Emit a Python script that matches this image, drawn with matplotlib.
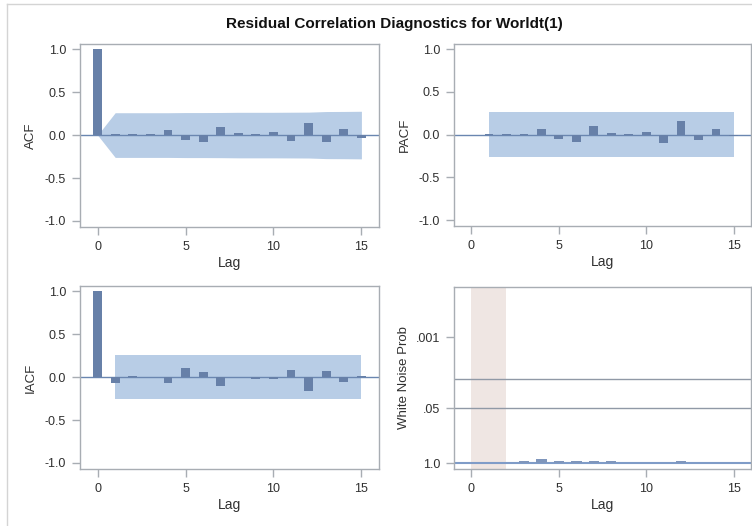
import numpy as np
import matplotlib
matplotlib.use("Agg")
import matplotlib.pyplot as plt
from matplotlib.lines import Line2D

plt.rcParams['font.family'] = ['Liberation Sans', 'DejaVu Sans']

# data
lags = list(range(0, 16))
acf = [1.0, 0.01, 0.01, 0.01, 0.06, -0.056, -0.083, 0.095, 0.02, 0.01,
       0.033, -0.068, 0.146, -0.083, 0.072, -0.03]
acf_band = [0.0, 0.26, 0.26, 0.26, 0.26, 0.262, 0.262, 0.263, 0.265, 0.265,
            0.265, 0.266, 0.267, 0.274, 0.275, 0.277]
pacf_lags = list(range(1, 16))
pacf = [0.01, 0.01, 0.01, 0.06, -0.056, -0.083, 0.095, 0.017, 0.01, 0.033,
        -0.095, 0.16, -0.068, 0.06, -0.018]
pacf_band = 0.26
iacf = [1.0, -0.068, 0.01, 0.0, -0.068, 0.1, 0.06, -0.107, 0.0, -0.025,
        -0.025, 0.088, -0.158, 0.072, -0.057, 0.018]
iacf_band = 0.26
wn_lags = list(range(3, 16))
wn_prob = [0.87, 0.8, 0.87, 0.87, 0.87, 0.87, 0.98, 0.98, 0.98,
           0.87, 0.98, 0.98, 0.98]
wn_shade = (0, 2)

bar_col = '#6780a8'
band_col = '#b8cde6'
zero_col = '#6a86b0'
frame_col = '#a8adb3'
text_col = '#303030'

W, H = 752, 526
fig = plt.figure(figsize=(W / 100, H / 100), dpi=100)


def px_axes(l, t, r, b):
    return fig.add_axes([l / W, 1 - b / H, (r - l) / W, (b - t) / H])


def style(ax, ylabel, w, h):
    for s in ax.spines.values():
        s.set_color(frame_col)
        s.set_linewidth(1)
    ax.tick_params(length=6, width=1, color=frame_col, labelsize=9,
                   labelcolor=text_col, pad=4)
    ax.set_xlim(-1, 16)
    ax.set_xticks([0, 5, 10, 15])
    ax.set_xlabel('Lag', fontsize=10, color=text_col)
    ax.xaxis.set_label_coords(0.5, -29 / h)
    ax.set_ylabel(ylabel, fontsize=9.5, color=text_col)


def corr_panel(ax, ylabel, w, h):
    style(ax, ylabel, w, h)
    ax.set_ylim(-1.07, 1.06)
    ax.set_yticks([-1.0, -0.5, 0.0, 0.5, 1.0])
    ax.set_yticklabels(['-1.0', '-0.5', '0.0', '0.5', '1.0'])
    ax.axhline(0, color=zero_col, lw=1, zorder=2)
    ax.yaxis.set_label_coords(-43 / w, 0.5)


# ACF
ax1 = px_axes(80, 44, 379, 227)
corr_panel(ax1, 'ACF', 299, 183)
ax1.fill_between(lags, [-b for b in acf_band], acf_band, color=band_col, lw=0, zorder=1)
ax1.bar(lags, acf, width=0.5, color=bar_col, zorder=3)

# PACF
ax2 = px_axes(454, 44, 751, 226)
corr_panel(ax2, 'PACF', 297, 182)
ax2.fill_between([pacf_lags[0], pacf_lags[-1]], -pacf_band, pacf_band, color=band_col, lw=0, zorder=1)
ax2.bar(pacf_lags, pacf, width=0.5, color=bar_col, zorder=3)

# IACF
ax3 = px_axes(80, 286, 379, 469)
corr_panel(ax3, 'IACF', 299, 183)
ax3.fill_between([1, 15], -iacf_band, iacf_band, color=band_col, lw=0, zorder=1)
ax3.bar(lags, iacf, width=0.5, color=bar_col, zorder=3)

# White noise probabilities on a -log10 scale
ax4 = px_axes(454, 287, 751, 469)
style(ax4, 'White Noise Prob', 297, 182)
ax4.yaxis.set_label_coords(-44 / 297, 0.5)
ax4.set_ylim(-0.14, 4.19)
ax4.set_yticks([0, -np.log10(0.05), 3])
ax4.set_yticklabels(['1.0', '.05', '.001'])
ax4.axvspan(wn_shade[0], wn_shade[1], color='#efe6e3', lw=0, zorder=1)
ax4.axhline(-np.log10(0.05), color='#9099a6', lw=1, zorder=2)
ax4.axhline(-np.log10(0.01), color='#9099a6', lw=1, zorder=2)
ax4.axhline(0, color='#7f9cc8', lw=1.5, zorder=2)
ax4.bar(wn_lags, -np.log10(wn_prob), width=0.6, color='#7f96bc', zorder=3)

fig.text(394 / W, 1 - 24 / H, 'Residual Correlation Diagnostics for Worldt(1)',
         ha='center', va='center', fontsize=11, fontweight='bold', color='#111111')

# outer frame lines
fig.add_artist(Line2D([7 / W, 1], [1 - 4 / H, 1 - 4 / H], color='#d4d4d4', lw=1))
fig.add_artist(Line2D([7 / W, 7 / W], [0, 1 - 4 / H], color='#d4d4d4', lw=1))

fig.savefig('out.png', dpi=100)
